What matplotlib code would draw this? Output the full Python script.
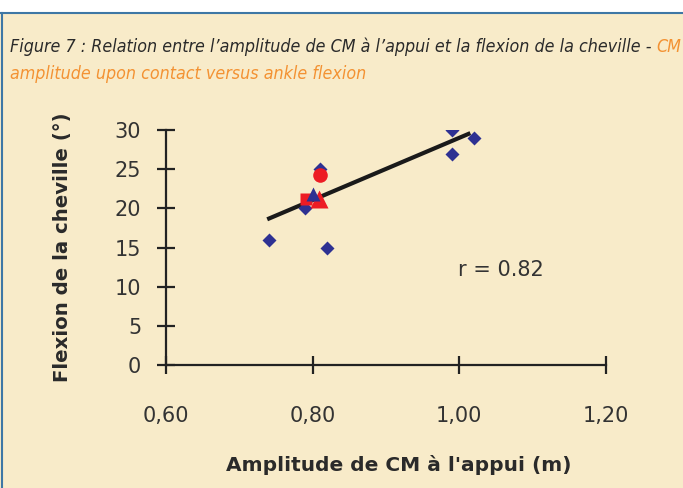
import matplotlib.pyplot as plt
from matplotlib.patches import Rectangle
from matplotlib.lines import Line2D

# Données
blue_diam_x = [0.74, 0.79, 0.81, 0.82, 0.99, 0.99, 1.02]
blue_diam_y = [16, 20, 25, 15, 30, 27, 29]
red_circ_x = [0.81]
red_circ_y = [24.3]
red_sq_x = [0.791]
red_sq_y = [21.2]
red_tri_x = [0.809]
red_tri_y = [21.2]
blue_tri_x = [0.80]
blue_tri_y = [21.8]
fit_x = [0.738, 1.015]
fit_y = [18.6, 29.6]

xticks = [0.60, 0.80, 1.00, 1.20]
xticklabels = ["0,60", "0,80", "1,00", "1,20"]
yticks = [0, 5, 10, 15, 20, 25, 30]

beige = "#F8EBC9"
navy = "#2E3192"
red = "#ED1C24"
orange = "#F39233"

fig = plt.figure(figsize=(6.83, 4.88), dpi=100, facecolor=beige)

# bandeau blanc + bordure bleue
fig.patches.append(Rectangle((0, 1 - 11.5/488), 1, 11.5/488, transform=fig.transFigure,
                             facecolor="white", edgecolor="none", zorder=0))
fig.lines.append(Line2D([0, 1], [1 - 12.5/488, 1 - 12.5/488], transform=fig.transFigure,
                        color="#3E77A5", lw=1.5))
fig.lines.append(Line2D([1.5/683, 1.5/683], [0, 1 - 12.5/488], transform=fig.transFigure,
                        color="#3E77A5", lw=1.5))

ax = fig.add_axes([166/683, 1 - 365/488, 440/683, 235/488])
ax.set_facecolor(beige)
ax.patch.set_alpha(0)

ax.plot(fit_x, fit_y, color="#1a1a1a", lw=3, solid_capstyle="butt", zorder=2)
ax.plot(blue_diam_x, blue_diam_y, "D", color=navy, ms=7.5, mec="none", zorder=3)
ax.plot(red_circ_x, red_circ_y, "o", color=red, ms=10.5, mec="none", zorder=4)
ax.plot(red_sq_x, red_sq_y, "s", color=red, ms=8, mec="none", zorder=4)
ax.plot(red_tri_x, red_tri_y, "^", color=red, ms=13, mec="none", zorder=4)
ax.plot(blue_tri_x, blue_tri_y, "^", color=navy, ms=10, mec="none", zorder=5)

ax.set_xlim(0.60, 1.20)
ax.set_ylim(0, 30)
for s in ["top", "right"]:
    ax.spines[s].set_visible(False)
for s in ["left", "bottom"]:
    ax.spines[s].set_linewidth(1.6)
    ax.spines[s].set_color("#222222")

ax.set_xticks(xticks)
ax.set_xticklabels(xticklabels)
ax.set_yticks(yticks)
ax.tick_params(direction="inout", length=13.5, width=1.6, color="#222222",
               labelsize=15, labelcolor="#333333")
ax.tick_params(axis="x", pad=23)
ax.tick_params(axis="y", pad=11)

ax.set_xlabel("Amplitude de CM à l'appui (m)", fontsize=14.5, fontweight="bold",
              color="#2a2a2a", labelpad=21)
ax.xaxis.label.set_x(0.53)
ax.set_ylabel("Flexion de la cheville (°)", fontsize=14.2, fontweight="bold",
              color="#2a2a2a", labelpad=31)

ax.text(1.057, 12.1, "r = 0.82", fontsize=15, color="#333333", ha="center", va="center")

tfont = dict(family=["DejaVu Sans"], stretch="condensed", style="italic", fontsize=12.8)
t1 = fig.text(10/683, 1 - 52/488, "Figure 7 : Relation entre l\u2019amplitude de CM à l\u2019appui et la flexion de la cheville - ",
              color="#2a2a2a", ha="left", va="baseline", **tfont)
ax.annotate("CM", xy=(1, 0), xycoords=t1, color=orange, ha="left", va="bottom",
            annotation_clip=False, **tfont)
fig.text(10/683, 1 - 79/488, "amplitude upon contact versus ankle flexion",
         color=orange, ha="left", va="baseline", **tfont)

fig.savefig("out.png", dpi=100, facecolor=beige)
